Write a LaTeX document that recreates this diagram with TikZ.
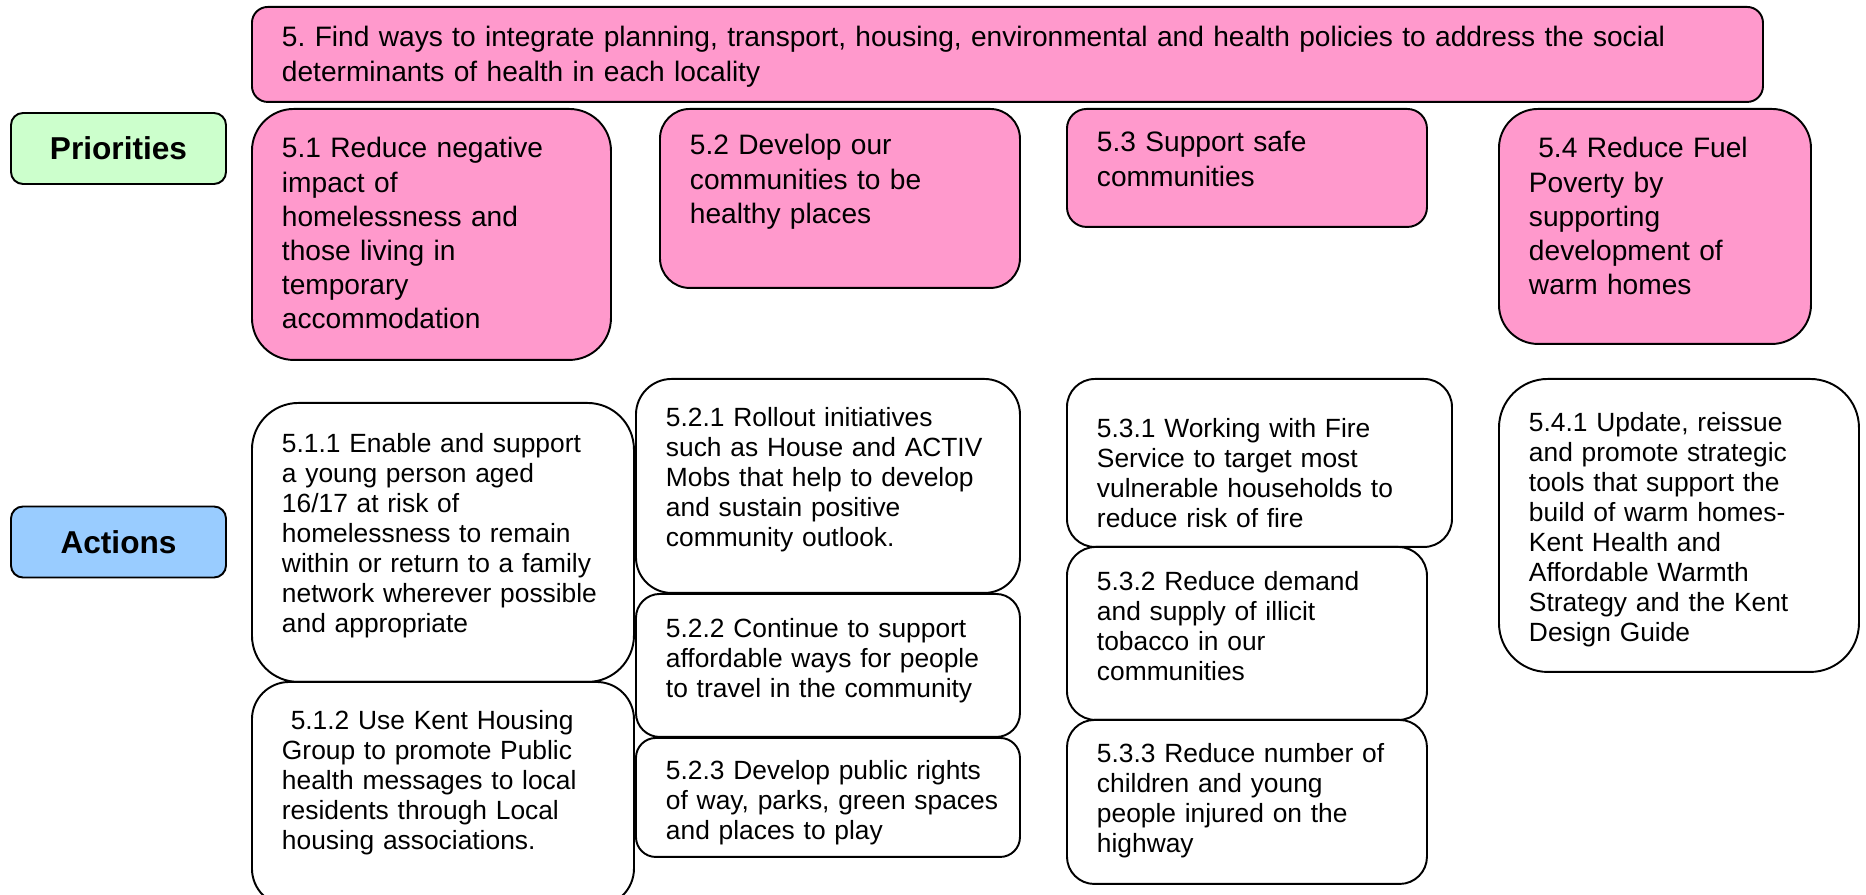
\documentclass[tikz,border=0pt]{standalone}
\usepackage{fontspec}
\setmainfont{Liberation Sans}
\frenchspacing
\definecolor{pinkbox}{HTML}{FF99CC}
\definecolor{greenbox}{HTML}{CCFFCC}
\definecolor{bluebox}{HTML}{99CCFF}

\begin{document}
\begin{tikzpicture}[x=0.1mm,y=-0.1mm,
  % card={left}{top}{right}{bottom}{gap above first line}
  card/.style n args={5}{draw, line width=0.55pt, anchor=north west, at={(#1,#2)},
    inner xsep=3mm, inner ysep=0pt, align=left,
    rounded corners={min(#3-#1,#4-#2)/6*0.1mm},
    text width={(#3-#1)*0.1mm-6mm},
    text height={(#5)*0.1mm+2mm},
    text depth={(#4-#2-#5)*0.1mm-2mm}},
  prio/.style={fill=pinkbox, font=\fontsize{8}{9.7}\selectfont},
  act/.style={fill=white, font=\fontsize{7.5}{8.5}\selectfont},
  tag/.style={draw, line width=0.55pt, rounded corners=1.2mm,
    font=\fontsize{9}{11}\selectfont\bfseries,
    minimum width=21.5mm, minimum height=7.1mm}]
\useasboundingbox (0,0) rectangle (1866,895);

\node[tag, fill=greenbox] (prio) at (118.5,148.5) {Priorities};
\node[tag, fill=bluebox] (act) at (118.5,542) {Actions};

\node[card={251}{6}{1762}{101}{20}, prio] (goal)
  {5. Find ways to integrate planning, transport, housing, environmental and health policies to address the social\\
   determinants of health in each locality};

% priorities
\node[card={251}{108}{610}{359}{29}, prio] (p1)
  {5.1 Reduce negative\\ impact of\\ homelessness and\\ those living in\\ temporary\\ accommodation};
\node[card={659}{108}{1019}{287}{26}, prio] (p2)
  {5.2 Develop our\\ communities to be\\ healthy places};
\node[card={1066}{108}{1426}{226}{23}, prio] (p3)
  {5.3 Support safe\\ communities};
\node[card={1498}{108}{1810}{343}{29}, prio] (p4)
  {\ 5.4 Reduce Fuel\\ Poverty by\\ supporting\\ development of\\ warm homes};

% actions
\node[card={251}{402}{633}{681}{30}, act] (a11)
  {5.1.1 Enable and support\\ a young person aged\\ 16/17 at risk of\\ homelessness to remain\\
   within or return to a family\\ network wherever possible\\ and appropriate};
\node[card={251}{681}{633}{905}{28}, act] (a12)
  {\ 5.1.2 Use Kent Housing\\ Group to promote Public\\ health messages to local\\
   residents through Local\\ housing associations.};
\node[card={635}{378}{1019}{592}{28}, act] (a21)
  {5.2.1 Rollout initiatives\\ such as House and ACTIV\\ Mobs that help to develop\\
   and sustain positive\\ community outlook.};
\node[card={635}{593}{1019}{736}{24}, act] (a22)
  {5.2.2 Continue to support\\ affordable ways for people\\ to travel in the community};
\node[card={635}{737}{1019}{856}{22}, act] (a23)
  {5.2.3 Develop public rights\\ \mbox{of way, parks, green spaces}\\ and places to play};
\node[card={1066}{378}{1451}{546}{39}, act] (a31)
  {5.3.1 Working with Fire\\ Service to target most\\ vulnerable households to\\ reduce risk of fire};
\node[card={1066}{546}{1426}{719}{24}, act] (a32)
  {5.3.2 Reduce demand\\ and supply of illicit\\ tobacco in our\\ communities};
\node[card={1066}{719}{1426}{883}{23}, act] (a33)
  {5.3.3 Reduce number of\\ children and young\\ people injured on the\\ highway};
\node[card={1498}{378}{1858}{671}{33}, act] (a41)
  {5.4.1 Update, reissue\\ and promote strategic\\ tools that support the\\ build of warm homes-\\
   Kent Health and\\ Affordable Warmth\\ Strategy and the Kent\\ Design Guide};
\end{tikzpicture}
\end{document}
